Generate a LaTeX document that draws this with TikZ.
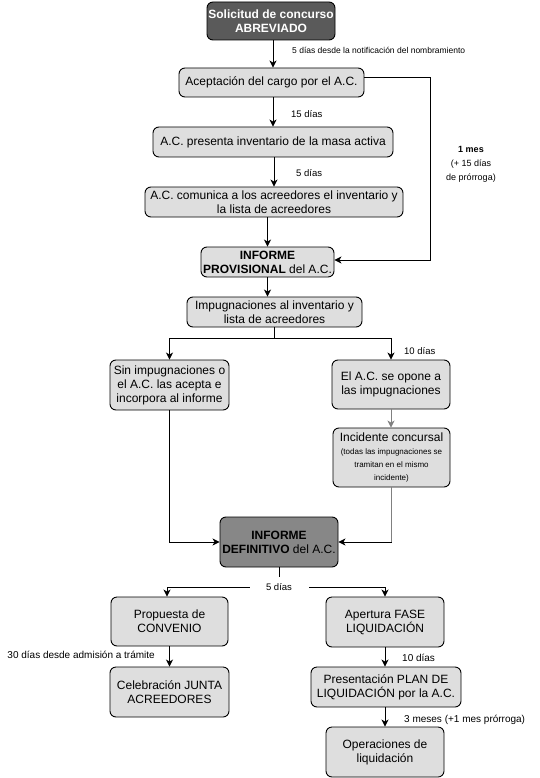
\documentclass[tikz,border=0pt]{standalone}
\usepackage{fontspec}
\setmainfont{Liberation Sans}
\usetikzlibrary{arrows.meta}
\definecolor{boxfill}{HTML}{DEDEDE}
\definecolor{darkfill}{HTML}{5A5A5A}
\definecolor{midfill}{HTML}{878787}
\definecolor{grayline}{HTML}{808080}
\begin{document}
\begin{tikzpicture}[x=1pt,y=-1pt,
  box/.style={draw=black,line width=0.9pt,rounded corners=6pt,fill=boxfill,align=center,
    inner sep=1pt,font=\fontsize{12}{14}\selectfont},
  arr/.style={line width=0.9pt,-{Stealth[length=7pt,width=7pt,inset=2pt]}},
  lbl/.style={font=\fontsize{8.5}{11}\selectfont,inner sep=0pt,align=center},
  lblm/.style={lbl,font=\fontsize{9.5}{12}\selectfont},
  lblb/.style={lbl,font=\fontsize{10}{12}\selectfont}
]
\useasboundingbox (0,0) rectangle (540,778);
\node[box,fill=darkfill,text=white,font=\fontsize{12}{14}\selectfont\bfseries,minimum width=128pt,minimum height=38pt] (sol) at (271,21) {Solicitud de concurso\\ABREVIADO};
\node[box,minimum width=185pt,minimum height=29pt] (acep) at (271.5,82.5) {Aceptación del cargo por el A.C.};
\node[box,minimum width=240pt,minimum height=30pt] (pres) at (273,142) {A.C. presenta inventario de la masa activa};
\node[box,minimum width=258pt,minimum height=30pt] (com) at (274,202) {A.C. comunica a los acreedores el inventario y\\la lista de acreedores};
\node[box,minimum width=133pt,minimum height=30pt] (prov) at (267.5,262) {\textbf{INFORME}\\\textbf{PROVISIONAL} del A.C.};
\node[box,minimum width=175pt,minimum height=30pt] (imp) at (274.5,312) {Impugnaciones al inventario y\\lista de acreedores};
\node[box,minimum width=119pt,minimum height=50pt] (sin) at (169.5,385) {Sin impugnaciones o\\el A.C. las acepta e\\incorpora al informe};
\node[box,minimum width=118pt,minimum height=49pt] (opo) at (391,384.5) {El A.C. se opone a\\las impugnaciones};
\node[box,minimum width=117pt,minimum height=59pt] (inc) at (391.5,457.5) {Incidente concursal\\[-1pt]{\fontsize{8}{14}\selectfont (todas las impugnaciones se}\\[-1pt]{\fontsize{8}{14}\selectfont tramitan en el mismo}\\[-1pt]{\fontsize{8}{14}\selectfont incidente)}};
\node[box,fill=midfill,minimum width=118pt,minimum height=50pt] (def) at (279,542) {\textbf{INFORME}\\\textbf{DEFINITIVO} del A.C.};
\node[box,minimum width=117pt,minimum height=49pt] (prop) at (169.5,621.5) {Propuesta de\\CONVENIO};
\node[box,minimum width=118pt,minimum height=50pt] (ape) at (385,622) {Apertura FASE\\LIQUIDACIÓN};
\node[box,minimum width=119pt,minimum height=50pt] (cel) at (169.5,692) {Celebración JUNTA\\ACREEDORES};
\node[box,minimum width=150pt,minimum height=40pt] (plan) at (386,687) {Presentación PLAN DE\\LIQUIDACIÓN por la A.C.};
\node[box,minimum width=118pt,minimum height=50pt] (ope) at (385,752) {Operaciones de\\liquidación};

% connectors
\draw[arr] ([xshift=2pt]sol.south) -- ([xshift=2pt]sol.south |- acep.north);
\draw[arr] ([xshift=1.5pt]acep.south) -- ([xshift=1.5pt]acep.south |- pres.north);
\draw[arr] ([xshift=1pt]pres.south) -- ([xshift=1pt]pres.south |- com.north);
\draw[arr] (prov.north |- com.south) -- (prov.north);
\coordinate (c1) at (430,77);
\coordinate (c2) at (430,260);
\draw[arr] (acep.east |- c1) -- (c1) -- (c2) -- (prov.east |- c2);
\draw[arr] (prov.south) -- (prov.south |- imp.north);
\coordinate (s1) at (274,338);
\draw[line width=0.9pt] (imp.south |- s1) -- (imp.south);
\draw[arr] (s1) -| (sin.north);
\draw[arr] (s1) -| (opo.north);
\draw[arr,draw=grayline] (opo.south) -- (opo.south |- inc.north);
\draw[arr] (sin.south) |- (def.west);
\coordinate (c3) at (inc.south |- def.east);
\draw[line width=0.9pt,draw=grayline] (inc.south) -- (c3);
\draw[arr] (c3) -- (def.east);
\coordinate (s2) at (def.south |- 0,587);
\draw[line width=0.9pt] (def.south) -- (s2);
\draw[arr] (s2) -| ([xshift=-2.5pt]prop.north);
\draw[arr] (s2) -| (ape.north);
\draw[arr] (prop.south) -- (prop.south |- cel.north);
\draw[arr] (ape.south) -- (ape.south |- plan.north);
\draw[arr] (ope.north |- plan.south) -- (ope.north);

% labels
\node[lbl,anchor=west] (l1) at (292,50) {5 días desde la notificación del nombramiento};
\node[lblm,anchor=west] (l2) at (291,114) {15 días};
\node[lblm,anchor=west] (l3) at (296,173) {5 días};
\node[lbl,font=\fontsize{9}{14}\selectfont] (l4) at (471,164) {\textbf{1 mes}\\(+ 15 días\\de prórroga)};
\node[lblm,anchor=west] (l5) at (404,351) {10 días};
\node[lblm,fill=white,minimum width=59pt,minimum height=20pt] (l6) at (s2) {5 días};
\node[lblb,anchor=east] (l7) at (155,655) {30 días desde admisión a trámite};
\node[lblb,anchor=west] (l8) at (402,658) {10 días};
\node[lblb,anchor=west] (l9) at (404,720) {3 meses (+1 mes prórroga)};
\end{tikzpicture}
\end{document}
